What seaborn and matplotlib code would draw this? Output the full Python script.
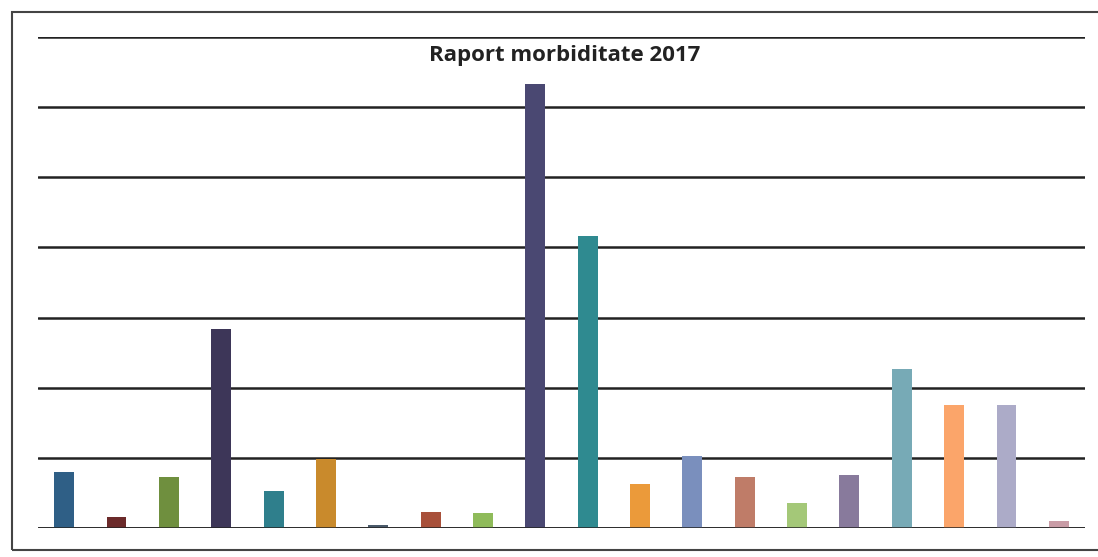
import matplotlib
matplotlib.use("Agg")
import matplotlib.pyplot as plt
from matplotlib.patches import Rectangle
import seaborn as sns
import pandas as pd

# ── Data ─────────────────────────────────────────────────────
categories = [f"Cat {i}" for i in range(1, 21)]
values = [0.8, 0.16, 0.73, 2.83, 0.53, 0.98, 0.04, 0.23, 0.21, 6.33,
          4.17, 0.63, 1.03, 0.73, 0.35, 0.76, 2.27, 1.75, 1.75, 0.1]
colors = ["#2f5f86", "#6b2a2a", "#6f8f3e", "#3d3658", "#2f7f8c",
          "#c98a2c", "#4a5a6a", "#a8503a", "#8fbb5a", "#4a4872",
          "#2f8a90", "#eb9a3a", "#7a8fbd", "#bf7c68", "#a4c878",
          "#887a9c", "#77aab6", "#fba56a", "#acabc8", "#c99ca6"]

df = pd.DataFrame({"category": categories, "value": values})

sns.set_style("white")
fig = plt.figure(figsize=(10.98, 5.57), dpi=100)
ax = fig.add_axes([38 / 1098, 29 / 557, 1047 / 1098, 491 / 557])

sns.barplot(data=df, x="category", y="value", hue="category",
            palette=colors, legend=False, width=0.38, ax=ax,
            saturation=1, linewidth=0, edgecolor="none")

ax.set_ylim(0, 7)
ax.set_yticks(range(0, 8))
ax.yaxis.grid(True, color="#222222", lw=1.8)
ax.set_axisbelow(True)
ax.set_xticks([])
ax.set_yticklabels([])
ax.tick_params(left=False)
ax.set_xlabel("")
ax.set_ylabel("")
for s in ax.spines.values():
    s.set_visible(False)
# baseline drawn over the bars
ax.axhline(0, color="#222222", lw=1.8)

ax.text(0.503, 0.984, "Raport morbiditate 2017", transform=ax.transAxes,
        ha="center", va="top", fontsize=16, fontweight="bold",
        family=["Open Sans", "DejaVu Sans"], color="#222222")

# outer chart frame
fig.patches.append(Rectangle((12 / 1098, 7 / 557), 1090 / 1098, 538 / 557,
                             transform=fig.transFigure, fill=False,
                             edgecolor="#444444", lw=1.5))

fig.savefig("out.png", dpi=100)
